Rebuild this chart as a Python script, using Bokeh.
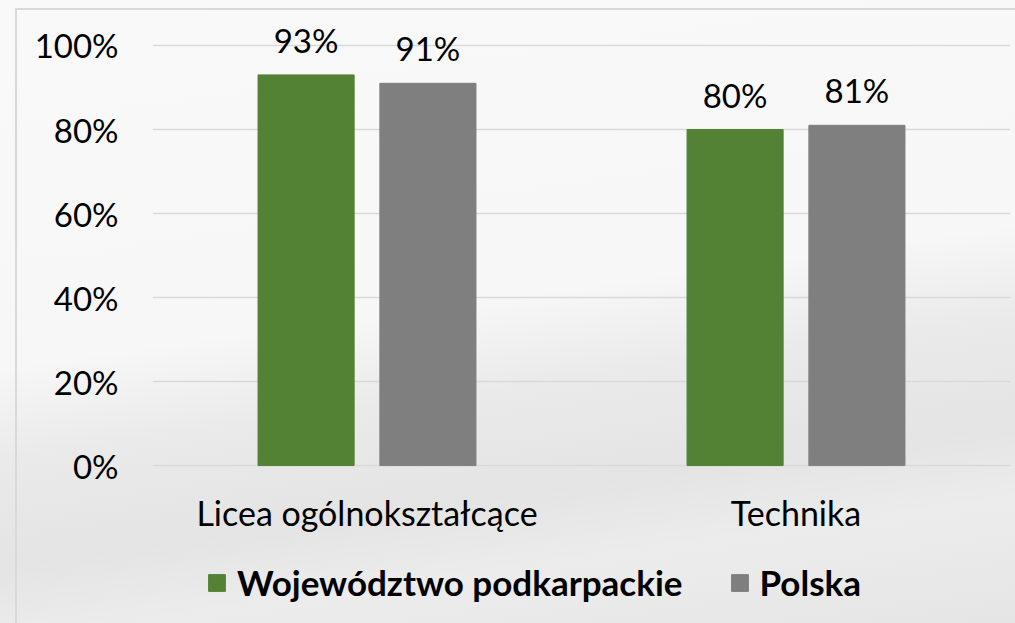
from bokeh.plotting import figure
from bokeh.models import (ColumnDataSource, FactorRange, Legend, LegendItem,
                          LabelSet, NumeralTickFormatter, FixedTicker, Range1d)
from bokeh.core.properties import value
from bokeh.transform import dodge
from bokeh.embed import file_html
from bokeh.resources import INLINE

categories = ["Licea ogólnokształcące", "Technika"]
series_names = ["Województwo podkarpackie", "Polska"]
woj_values = [0.93, 0.80]
pl_values = [0.91, 0.81]
y_ticks = [0, 0.2, 0.4, 0.6, 0.8, 1.0]

colors = ["#548235", "#7f7f7f"]
FONT = "Lato"
FS = "33px"

src = ColumnDataSource(dict(
    cat=categories,
    zero=[0] * len(categories),
    woj=woj_values,
    pl=pl_values,
    woj_lab=[f"{round(v*100)}%" for v in woj_values],
    pl_lab=[f"{round(v*100)}%" for v in pl_values],
))

# frame spans from 20px to the bottom; 420px per 100%
p = figure(x_range=FactorRange(*categories), y_range=Range1d(-0.376, 1.0595),
           width=1015, height=623, output_backend="svg", toolbar_location=None,
           x_axis_location=None,
           min_border_left=152, min_border_right=5, min_border_top=20, min_border_bottom=0)
# transparent canvas; the backdrop (soft grey gradient + thin frame) comes from CSS
p.background_fill_alpha = 0
p.border_fill_alpha = 0
p.outline_line_color = None
p.styles = {
    "background": (
        "linear-gradient(#d9d9d9, #d9d9d9) 15px 8px / 2px calc(100% - 8px) no-repeat, "
        "linear-gradient(#d9d9d9, #d9d9d9) 15px 8px / calc(100% - 15px) 2px no-repeat, "
        "linear-gradient(172deg, #f9f9f9 0%, #f7f7f7 48%, #eaeaea 60%, #e4e4e4 74%, "
        "#ececec 84%, #e5e5e5 100%)"
    )
}

off = 0.142
bw = 0.224
r1 = p.vbar(x=dodge("cat", -off, range=p.x_range), top="woj", width=bw, source=src,
            fill_color=colors[0], line_color=colors[0])
r2 = p.vbar(x=dodge("cat", off, range=p.x_range), top="pl", width=bw, source=src,
            fill_color=colors[1], line_color=colors[1])

for col, lab, o in (("woj", "woj_lab", -off), ("pl", "pl_lab", off)):
    p.add_layout(LabelSet(x=dodge("cat", o, range=p.x_range), y=col, text=lab, source=src,
                          text_align="center", text_baseline="alphabetic", y_offset=22,
                          text_font=value(FONT), text_font_size=FS, text_color="#000000"))

# category labels under the bars
p.add_layout(LabelSet(x="cat", y="zero", text="cat", source=src,
                      text_align="center", text_baseline="alphabetic", y_offset=-60,
                      text_font=value(FONT), text_font_size="34px", text_color="#000000"))

p.yaxis.ticker = FixedTicker(ticks=y_ticks)
p.yaxis.formatter = NumeralTickFormatter(format="0%")
ax = p.yaxis[0]
ax.axis_line_color = None
ax.major_tick_line_color = None
ax.minor_tick_line_color = None
ax.major_label_text_font = FONT
ax.major_label_text_font_size = FS
ax.major_label_text_color = "#000000"
ax.major_label_standoff = 28

p.xgrid.grid_line_color = None
p.ygrid.grid_line_color = "#d9d9d9"
p.ygrid.grid_line_width = 1.5

legend = Legend(items=[LegendItem(label=series_names[0], renderers=[r1]),
                       LegendItem(label=series_names[1], renderers=[r2])],
                orientation="horizontal", location=(54, 20),
                label_text_font=FONT, label_text_font_size="35px",
                label_text_font_style="bold", label_text_color="#000000",
                glyph_width=21, glyph_height=21, label_standoff=10, spacing=46,
                padding=0, margin=0, border_line_color=None,
                background_fill_alpha=0)
p.add_layout(legend)

open("out.html", "w").write(file_html(p, INLINE))
